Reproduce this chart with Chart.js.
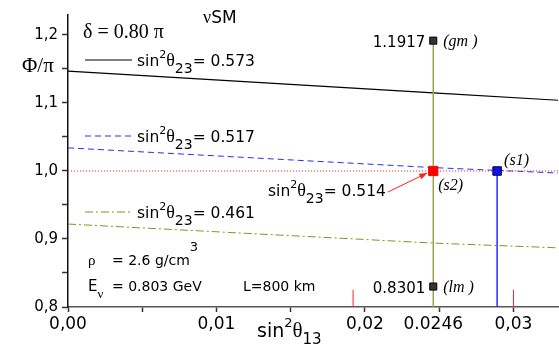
<!DOCTYPE html>
<html>
<head>
<meta charset="utf-8">
<script src="https://cdn.jsdelivr.net/npm/chart.js@4.4.1/dist/chart.umd.min.js"></script>
<style>
  html, body { margin: 0; padding: 0; background: #fff; }
  #wrap { width: 559px; height: 346px; }
</style>
</head>
<body>
<div id="wrap"><canvas id="c" width="559" height="346"></canvas></div>
<script>
// sin^2(theta13) sample points for the three curves
const sinSqTheta13 = [0, 0.0246, 0.033];
// Phi/pi for each sin^2(theta23)
const phiTheta573 = [1.147, 1.115, 1.104];
const phiTheta517 = [1.034, 1.005, 0.997];
const phiTheta461 = [0.922, 0.894, 0.887];

// special points
const bestFitX = 0.0246;
const gmPhi = 1.1917;
const lmPhi = 0.8301;
const s2Phi = 1.0;
const s1X = 0.0289;
const s1Phi = 1.0;
const referencePhi = 1.0;
const redMarkX = [0.0192, 0.0300];
const redMarkTop = 0.825;

// axes
const xMin = 0, xMax = 0.033;
const yMin = 0.8, yMax = 1.2294;
const xTickValues = [0, 0.005, 0.01, 0.015, 0.02, 0.0246, 0.025, 0.03];
const xTickLabels = [[0, '0,00'], [0.01, '0,01'], [0.02, '0,02'], [0.0246, '0.0246'], [0.03, '0,03']];
const yTickValues = [0.8, 0.85, 0.9, 0.95, 1.0, 1.05, 1.1, 1.15, 1.2];
const yTickLabels = [[0.8, '0,8'], [0.9, '0,9'], [1.0, '1,0'], [1.1, '1,1'], [1.2, '1,2']];

function findLabel(list, v) {
  for (const [k, s] of list) if (Math.abs(k - v) < 1e-6) return s;
  return '';
}
function pts(xs, ys) { return xs.map((x, i) => ({ x: x, y: ys[i] })); }

const SANS = '"DejaVu Sans", sans-serif';
const SERIF = '"Liberation Serif", serif';

function rich(ctx, x, y, parts) {
  for (const p of parts) {
    ctx.font = p.font;
    ctx.fillText(p.t, x, y + (p.dy || 0));
    x += ctx.measureText(p.t).width;
  }
  return x;
}
function sinSq(sub, rest, size) {
  return [
    { t: 'sin', font: size + 'px ' + SANS },
    { t: '2', font: Math.round(size * 0.72) + 'px ' + SANS, dy: -size * 0.5 },
    { t: 'θ', font: Math.round(size * 1.15) + 'px ' + SERIF },
    { t: sub, font: Math.round(size * 0.9) + 'px ' + SANS, dy: size * 0.45 },
    { t: rest, font: size + 'px ' + SANS }
  ];
}

const annotations = {
  id: 'annotations',
  afterDatasetsDraw(chart) {
    const ctx = chart.ctx;
    const xs = chart.scales.x, ys = chart.scales.y;
    ctx.save();
    ctx.fillStyle = '#000';
    ctx.textBaseline = 'alphabetic';
    ctx.textAlign = 'left';

    // header texts
    rich(ctx, 203, 23, [{ t: 'ν', font: '18px ' + SERIF }, { t: 'SM', font: '17px ' + SANS }]);
    ctx.font = '20px ' + SERIF;
    ctx.fillText('δ = 0.80 π', 83, 38);

    // legend samples
    const legend = [
      { y: 60, color: '#000', dash: [], width: 1.2, rest: '= 0.573' },
      { y: 136, color: '#2a2aff', dash: [6, 4], width: 1, rest: '= 0.517' },
      { y: 212, color: '#8f8f18', dash: [8, 3, 2, 3], width: 1, rest: '= 0.461' }
    ];
    for (const l of legend) {
      ctx.strokeStyle = l.color;
      ctx.lineWidth = l.width;
      ctx.setLineDash(l.dash);
      ctx.beginPath();
      ctx.moveTo(85, l.y);
      ctx.lineTo(132, l.y);
      ctx.stroke();
      ctx.setLineDash([]);
      rich(ctx, 137, l.y + 6, sinSq('23', l.rest, 15.5));
    }

    // medium parameters
    ctx.font = '15px ' + SERIF;
    ctx.fillText('ρ', 88, 265);
    rich(ctx, 112, 265, [{ t: '= 2.6 g/cm', font: '14px ' + SANS }, { t: '3', font: '13px ' + SANS, dy: -14 }]);
    rich(ctx, 88, 291, [{ t: 'E', font: '15px ' + SANS }, { t: 'ν', font: '13px ' + SERIF, dy: 7 }]);
    ctx.font = '14px ' + SANS;
    ctx.fillText('= 0.803 GeV', 112, 291);
    ctx.fillText('L=800 km', 243, 291);

    // axis titles
    ctx.font = '21px ' + SERIF;
    ctx.fillText('Φ/π', 22, 72);
    rich(ctx, 257, 337, [
      { t: 'sin', font: '19px ' + SANS },
      { t: '2', font: '13px ' + SANS, dy: -10 },
      { t: 'θ', font: '21px ' + SERIF },
      { t: '13', font: '15px ' + SANS, dy: 7 }
    ]);

    // point labels
    const bx = xs.getPixelForValue(bestFitX);
    const gy = ys.getPixelForValue(gmPhi);
    const ly = ys.getPixelForValue(lmPhi);
    ctx.textAlign = 'right';
    ctx.font = '15px ' + SANS;
    ctx.fillText('1.1917', bx - 8, gy + 6);
    ctx.fillText('0.8301', bx - 8, ly + 6);
    ctx.textAlign = 'left';
    ctx.font = 'italic 16px ' + SERIF;
    ctx.fillText('(gm )', bx + 10, gy + 5);
    ctx.fillText('(lm )', bx + 10, ly + 5);

    const s2y = ys.getPixelForValue(s2Phi);
    ctx.fillText('(s2)', bx + 5, s2y + 19);
    const s1x = xs.getPixelForValue(s1X), s1y = ys.getPixelForValue(s1Phi);
    ctx.fillText('(s1)', s1x + 7, s1y - 6);

    // s2 label with arrow
    const lx = rich(ctx, 268, 196, sinSq('23', '= 0.514', 15.5));
    const ax0 = lx + 2, ay0 = 192, ax1 = bx - 6, ay1 = s2y + 2;
    ctx.strokeStyle = '#ff2020';
    ctx.fillStyle = '#ff2020';
    ctx.lineWidth = 1;
    ctx.beginPath();
    ctx.moveTo(ax0, ay0);
    ctx.lineTo(ax1, ay1);
    ctx.stroke();
    const ang = Math.atan2(ay1 - ay0, ax1 - ax0);
    ctx.beginPath();
    ctx.moveTo(ax1, ay1);
    ctx.lineTo(ax1 - 8 * Math.cos(ang) + 3 * Math.sin(ang), ay1 - 8 * Math.sin(ang) - 3 * Math.cos(ang));
    ctx.lineTo(ax1 - 8 * Math.cos(ang) - 3 * Math.sin(ang), ay1 - 8 * Math.sin(ang) + 3 * Math.cos(ang));
    ctx.closePath();
    ctx.fill();
    ctx.restore();
  }
};

const datasets = [
  { data: [{ x: bestFitX, y: gmPhi }, { x: bestFitX, y: lmPhi }], showLine: false,
    pointStyle: 'rect', pointRadius: 5, backgroundColor: '#333', borderColor: '#000', borderWidth: 1 },
  { data: [{ x: bestFitX, y: s2Phi }], showLine: false,
    pointStyle: 'rect', pointRadius: 6.5, backgroundColor: '#ff0000', borderColor: '#ff0000', borderWidth: 1 },
  { data: [{ x: s1X, y: s1Phi }], showLine: false,
    pointStyle: 'rect', pointRadius: 6, backgroundColor: '#1010ee', borderColor: '#000040', borderWidth: 1 },
  { data: [{ x: bestFitX, y: yMin }, { x: bestFitX, y: gmPhi }], borderColor: '#a0a050', borderWidth: 1.5, pointRadius: 0 },
  { data: [{ x: s1X, y: yMin }, { x: s1X, y: s1Phi }], borderColor: '#2a2aff', borderWidth: 1.5, pointRadius: 0 },
  ...redMarkX.map(x => ({ data: [{ x: x, y: yMin }, { x: x, y: redMarkTop }], borderColor: '#ff2020', borderWidth: 1, pointRadius: 0 })),
  { data: [{ x: xMin, y: referencePhi }, { x: xMax, y: referencePhi }], borderColor: '#ff2020', borderWidth: 1, borderDash: [1, 2], pointRadius: 0 },
  { data: pts(sinSqTheta13, phiTheta573), borderColor: '#000', borderWidth: 1.2, pointRadius: 0 },
  { data: pts(sinSqTheta13, phiTheta517), borderColor: '#2a2aff', borderWidth: 1, borderDash: [6, 4], pointRadius: 0 },
  { data: pts(sinSqTheta13, phiTheta461), borderColor: '#8f8f18', borderWidth: 1, borderDash: [8, 3, 2, 3], pointRadius: 0 }
];

new Chart(document.getElementById('c'), {
  type: 'line',
  data: { datasets: datasets },
  options: {
    responsive: false,
    animation: false,
    devicePixelRatio: 1,
    layout: { autoPadding: false, padding: { top: 15, right: 1, left: 0, bottom: 0 } },
    plugins: { legend: { display: false }, tooltip: { enabled: false } },
    elements: { line: { tension: 0, fill: false } },
    scales: {
      x: {
        type: 'linear', min: xMin, max: xMax,
        afterBuildTicks: (s) => { s.ticks = xTickValues.map(v => ({ value: v })); },
        afterFit: (s) => { s.height = 39; s.paddingLeft = 0; s.paddingRight = 0; },
        ticks: {
          autoSkip: false, maxRotation: 0, padding: 2,
          color: '#000', font: { family: 'DejaVu Sans', size: 17 },
          callback: (v) => findLabel(xTickLabels, v)
        },
        grid: {
          drawOnChartArea: false, tickLength: 5, tickWidth: 1.5,
          tickColor: (c) => (c.tick && Math.abs(c.tick.value - bestFitX) < 1e-6) ? 'rgba(0,0,0,0)' : '#333'
        },
        border: { color: '#555', width: 1.5 }
      },
      y: {
        type: 'linear', min: yMin, max: yMax,
        afterBuildTicks: (s) => { s.ticks = yTickValues.map(v => ({ value: v })); },
        afterFit: (s) => { s.width = 68; s.paddingTop = 0; s.paddingBottom = 0; },
        ticks: {
          autoSkip: false, padding: 4,
          color: '#000', font: { family: 'DejaVu Sans', size: 15 },
          callback: (v) => findLabel(yTickLabels, v)
        },
        grid: { drawOnChartArea: false, tickLength: 6, tickWidth: 1.5, tickColor: '#333' },
        border: { color: '#111', width: 1.5 }
      }
    }
  },
  plugins: [annotations]
});
</script>
</body>
</html>
